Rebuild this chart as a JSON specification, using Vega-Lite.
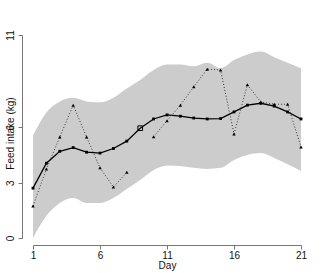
{
  "$schema": "https://vega.github.io/schema/vega-lite/v6.json",
  "width": 268,
  "height": 203,
  "autosize": {"type": "none"},
  "padding": {"left": 33, "top": 35, "right": 32, "bottom": 35},
  "background": "white",
  "config": {
    "view": {"stroke": null},
    "font": "Liberation Sans",
    "mark": {"invalid": "break-paths-show-domains"},
    "axis": {
      "grid": false,
      "domainColor": "#777777",
      "tickColor": "#777777",
      "labelColor": "#111111",
      "titleColor": "#111111",
      "labelFontSize": 10,
      "titleFontSize": 10,
      "titleFontWeight": "normal",
      "tickSize": 4,
      "labelFont": "Liberation Sans",
      "titleFont": "Liberation Sans"
    }
  },
  "data": {
    "values": [
      {"day": 1, "lo": 0.0, "hi": 5.55, "mean": 2.7, "obs": 1.73},
      {"day": 2, "lo": 1.2, "hi": 6.8, "mean": 4.05, "obs": 3.74},
      {"day": 3, "lo": 1.9, "hi": 7.4, "mean": 4.7, "obs": 5.47},
      {"day": 4, "lo": 2.17, "hi": 7.6, "mean": 4.9, "obs": 7.2},
      {"day": 5, "lo": 1.9, "hi": 7.4, "mean": 4.65, "obs": 5.47},
      {"day": 6, "lo": 1.9, "hi": 7.35, "mean": 4.6, "obs": 3.8},
      {"day": 7, "lo": 2.17, "hi": 7.6, "mean": 4.85, "obs": 2.76},
      {"day": 8, "lo": 2.65, "hi": 8.1, "mean": 5.25, "obs": 3.56},
      {"day": 9, "lo": 3.14, "hi": 8.56, "mean": 5.95, "obs": null},
      {"day": 10, "lo": 3.68, "hi": 9.1, "mean": 6.45, "obs": 5.49},
      {"day": 11, "lo": 3.93, "hi": 9.4, "mean": 6.67, "obs": 6.35},
      {"day": 12, "lo": 3.9, "hi": 9.4, "mean": 6.6, "obs": 7.2},
      {"day": 13, "lo": 3.8, "hi": 9.3, "mean": 6.5, "obs": 8.2},
      {"day": 14, "lo": 3.74, "hi": 9.5, "mean": 6.45, "obs": 9.15},
      {"day": 15, "lo": 3.8, "hi": 9.2, "mean": 6.47, "obs": 9.1},
      {"day": 16, "lo": 4.23, "hi": 9.65, "mean": 6.83, "obs": 5.64},
      {"day": 17, "lo": 4.5, "hi": 9.95, "mean": 7.2, "obs": 8.3},
      {"day": 18, "lo": 4.6, "hi": 10.1, "mean": 7.3, "obs": 7.37},
      {"day": 19, "lo": 4.34, "hi": 9.8, "mean": 7.15, "obs": 7.25},
      {"day": 20, "lo": 4.0, "hi": 9.5, "mean": 6.83, "obs": 7.25},
      {"day": 21, "lo": 3.63, "hi": 9.2, "mean": 6.45, "obs": 4.93}
    ]
  },
  "encoding": {
    "x": {
      "field": "day", "type": "quantitative",
      "scale": {"domain": [1, 21], "nice": false, "zero": false},
      "axis": {"values": [1, 6, 11, 16, 21], "title": "Day", "offset": 7, "labelPadding": 1, "titlePadding": 0, "labelFlush": false}
    }
  },
  "layer": [
    {
      "mark": {"type": "area", "color": "#cccccc", "interpolate": "monotone"},
      "encoding": {
        "y": {
          "field": "lo", "type": "quantitative",
          "scale": {"domain": [0, 11], "nice": false},
          "axis": {"values": [0, 3, 6, 11], "title": "Feed intake (kg)", "offset": 11, "labelAngle": 270, "labelAlign": "center", "labelBaseline": "bottom", "labelPadding": 3, "titleX": -9, "titleY": 98, "titleAngle": 270, "titleAlign": "center", "titleBaseline": "alphabetic"}
        },
        "y2": {"field": "hi"}
      }
    },
    {
      "mark": {"type": "line", "color": "#000000", "strokeWidth": 1.3},
      "encoding": {"y": {"field": "mean", "type": "quantitative"}}
    },
    {
      "mark": {"type": "line", "color": "#333333", "strokeWidth": 1, "strokeDash": [1, 2]},
      "encoding": {"y": {"field": "obs", "type": "quantitative"}}
    },
    {
      "mark": {"type": "point", "shape": "triangle-up", "filled": true, "color": "#000000", "size": 12, "opacity": 1},
      "encoding": {"y": {"field": "obs", "type": "quantitative"}}
    },
    {
      "transform": [{"filter": "datum.obs != null"}],
      "mark": {"type": "point", "shape": "square", "filled": true, "color": "#000000", "size": 8, "opacity": 1},
      "encoding": {"y": {"field": "mean", "type": "quantitative"}}
    },
    {
      "transform": [{"filter": "datum.obs == null"}],
      "mark": {"type": "point", "shape": "square", "filled": false, "color": "#000000", "size": 22, "strokeWidth": 1, "opacity": 1},
      "encoding": {"y": {"field": "mean", "type": "quantitative"}}
    }
  ]
}
